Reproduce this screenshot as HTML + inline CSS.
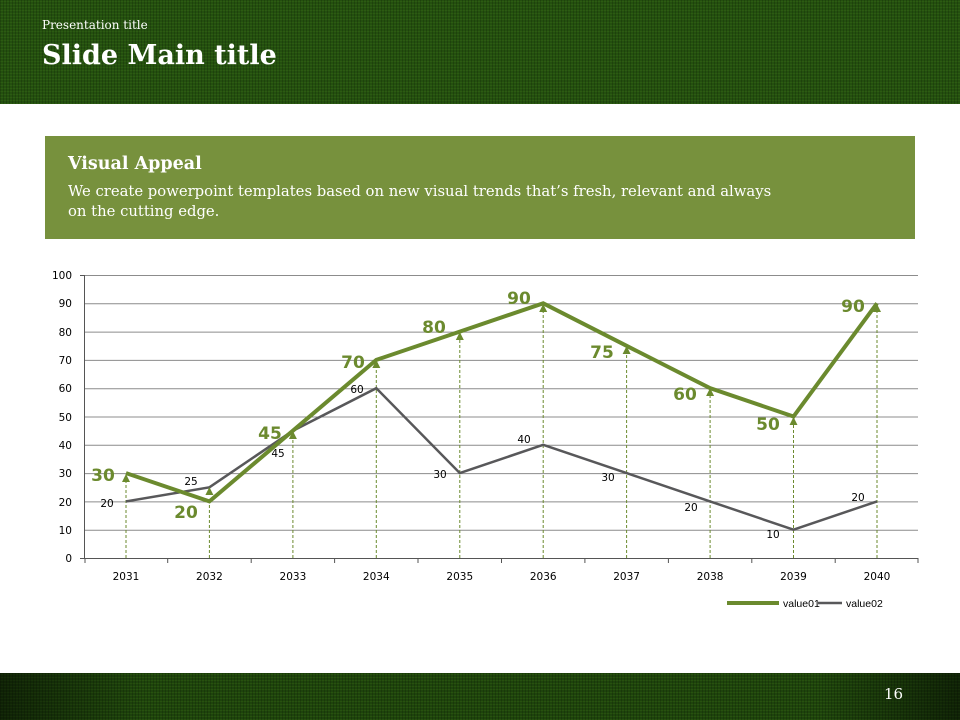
<!DOCTYPE html><html><head><meta charset="utf-8"><style>
body{margin:0;width:960px;height:720px;position:relative;overflow:hidden;background:#fff;font-family:"DejaVu Serif","Liberation Serif",serif}
.tex{position:absolute;left:0;width:960px;background-color:#24500f;background-image:repeating-linear-gradient(90deg,rgba(0,0,0,.18) 0 1px,transparent 1px 3px),repeating-linear-gradient(0deg,rgba(80,140,30,.18) 0 1px,transparent 1px 3px)}
</style></head><body>
<div class="tex" style="top:0;height:104px"></div>
<div class="tex" style="top:673px;height:47px;background-color:#1e440c"></div>
<div style="position:absolute;left:0;top:673px;width:960px;height:47px;background:linear-gradient(90deg,rgba(0,0,0,.5),transparent 15%,transparent 85%,rgba(0,0,0,.5))"></div>
<div style="position:absolute;left:42px;top:18px;color:#fff;font-size:12px">Presentation title</div>
<div style="position:absolute;left:42px;top:40px;color:#fff;font-size:27px;font-weight:bold">Slide Main title</div>
<div style="position:absolute;left:884px;top:685px;color:#fff;font-size:15px">16</div>
<div style="position:absolute;left:45px;top:136px;width:870px;height:103px;background:#77913d"></div>
<div style="position:absolute;left:68px;top:154px;color:#fff;font-size:17.5px;font-weight:bold">Visual Appeal</div>
<div style="position:absolute;left:68px;top:182px;color:#fff;font-size:14.8px;line-height:20px;white-space:nowrap">We create powerpoint templates based on new visual trends that’s fresh, relevant and always<br>on the cutting edge.</div>
<svg style="position:absolute;left:0;top:0" width="960" height="720" font-family="DejaVu Sans, Liberation Sans, sans-serif">
<g stroke="#8c8c8c" stroke-width="1">
<line x1="85" x2="918" y1="275.5" y2="275.5"/><line x1="85" x2="918" y1="303.8" y2="303.8"/><line x1="85" x2="918" y1="332.1" y2="332.1"/><line x1="85" x2="918" y1="360.4" y2="360.4"/><line x1="85" x2="918" y1="388.7" y2="388.7"/><line x1="85" x2="918" y1="417" y2="417"/><line x1="85" x2="918" y1="445.3" y2="445.3"/><line x1="85" x2="918" y1="473.6" y2="473.6"/><line x1="85" x2="918" y1="501.9" y2="501.9"/><line x1="85" x2="918" y1="530.2" y2="530.2"/>
</g>
<g stroke="#555" stroke-width="1"><line x1="85" x2="918" y1="558.5" y2="558.5"/><line x1="84.5" x2="84.5" y1="275" y2="559"/>
<line x1="80" x2="85" y1="275.5" y2="275.5"/><line x1="80" x2="85" y1="558.5" y2="558.5"/>
<path d="M167.7 558v5M251.2 558v5M334.6 558v5M418 558v5M501.5 558v5M584.9 558v5M668.4 558v5M751.8 558v5M835.2 558v5M918 558v5M85 558v5"/></g>
<g font-size="10.5" fill="#000" text-anchor="end"><text x="72" y="279">100</text><text x="72" y="307">90</text><text x="72" y="336">80</text><text x="72" y="364">70</text><text x="72" y="392">60</text><text x="72" y="421">50</text><text x="72" y="449">40</text><text x="72" y="477">30</text><text x="72" y="506">20</text><text x="72" y="534">10</text><text x="72" y="562">0</text></g>
<g font-size="10.5" fill="#000" text-anchor="middle"><text x="126" y="580">2031</text><text x="209.4" y="580">2032</text><text x="292.9" y="580">2033</text><text x="376.3" y="580">2034</text><text x="459.8" y="580">2035</text><text x="543.2" y="580">2036</text><text x="626.6" y="580">2037</text><text x="710.1" y="580">2038</text><text x="793.5" y="580">2039</text><text x="877" y="580">2040</text></g>
<g stroke="#6b8a2e" stroke-width="1" stroke-dasharray="3,2">
<line x1="126" x2="126" y1="558" y2="475"/><line x1="209.4" x2="209.4" y1="558" y2="503"/><line x1="292.9" x2="292.9" y1="558" y2="432"/><line x1="376.3" x2="376.3" y1="558" y2="362"/><line x1="459.8" x2="459.8" y1="558" y2="333"/><line x1="543.2" x2="543.2" y1="558" y2="305"/><line x1="626.6" x2="626.6" y1="558" y2="347"/><line x1="710.1" x2="710.1" y1="558" y2="390"/><line x1="793.5" x2="793.5" y1="558" y2="418"/><line x1="877" x2="877" y1="558" y2="305"/></g>
<polyline fill="none" stroke="#58585a" stroke-width="2.5" points="126,501.4 209.4,487.3 292.9,430.7 376.3,388.2 459.8,473.1 543.2,444.8 626.6,473.1 710.1,501.4 793.5,529.7 877,501.4"/>
<polyline fill="none" stroke="#6b8a2e" stroke-width="4" points="126,473.1 209.4,501.4 292.9,430.7 376.3,359.9 459.8,331.6 543.2,303.3 626.6,345.8 710.1,388.2 793.5,416.5 877,303.3"/>
<g fill="#6b8a2e">
<path d="M122,482 l4,-8 l4,8z"/><path d="M205.4,495 l4,-8 l4,8z"/><path d="M288.9,439 l4,-8 l4,8z"/><path d="M372.3,368 l4,-8 l4,8z"/><path d="M455.8,340 l4,-8 l4,8z"/><path d="M539.2,312 l4,-8 l4,8z"/><path d="M622.6,354 l4,-8 l4,8z"/><path d="M706.1,396 l4,-8 l4,8z"/><path d="M789.5,425 l4,-8 l4,8z"/><path d="M873,312 l4,-8 l4,8z"/></g>
<g font-size="17" font-weight="bold" fill="#6b8a2e" text-anchor="middle"><text x="103" y="481">30</text><text x="186" y="518">20</text><text x="270" y="439">45</text><text x="353" y="368">70</text><text x="434" y="333">80</text><text x="519" y="304">90</text><text x="602" y="358">75</text><text x="685" y="400">60</text><text x="768" y="430">50</text><text x="853" y="312">90</text></g>
<g font-size="10.5" fill="#000" text-anchor="middle"><text x="107" y="507">20</text><text x="191" y="485">25</text><text x="278" y="457">45</text><text x="357" y="393">60</text><text x="440" y="478">30</text><text x="524" y="443">40</text><text x="608" y="481">30</text><text x="691" y="511">20</text><text x="773" y="538">10</text><text x="858" y="501">20</text></g>
<line x1="727" x2="779" y1="603" y2="603" stroke="#6b8a2e" stroke-width="4"/>
<text x="783" y="607" font-size="10.5" font-family="Liberation Sans, sans-serif">value01</text>
<line x1="818" x2="842" y1="603" y2="603" stroke="#58585a" stroke-width="2.5"/>
<text x="846" y="607" font-size="10.5" font-family="Liberation Sans, sans-serif">value02</text>
</svg>
</body></html>
